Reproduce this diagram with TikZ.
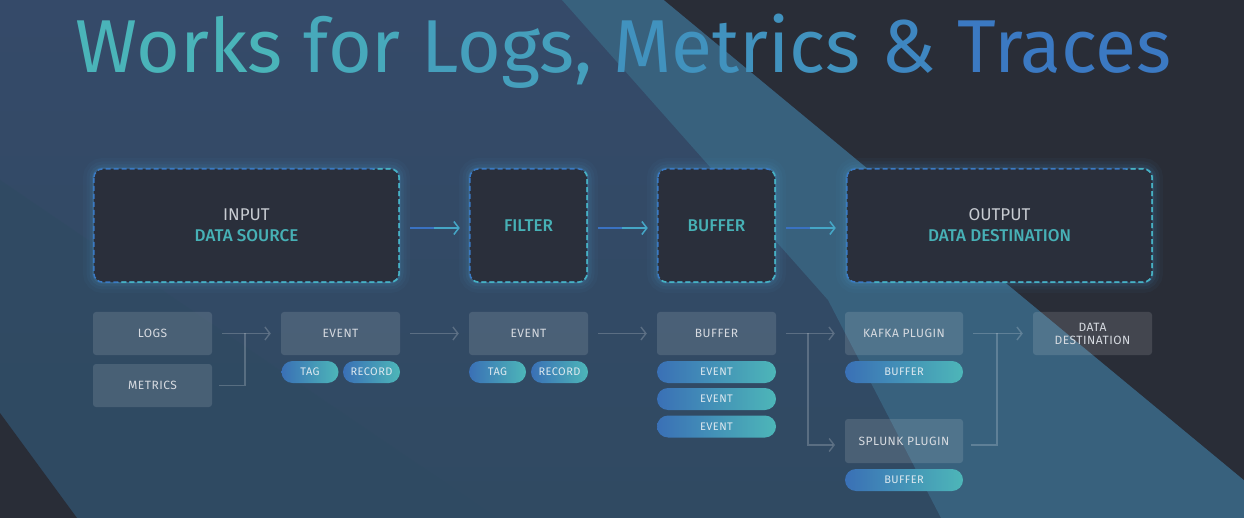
\documentclass[tikz,border=0pt]{standalone}
\usepackage{fontspec}
\setmainfont{Fira Sans}
\newfontfamily\titlefont{Fira Sans}
\newfontfamily\medfont{Fira Sans Medium}
\newfontfamily\lblfont{Fira Sans}[LetterSpace=4]
\usetikzlibrary{arrows.meta,calc}
\definecolor{bgtop}{HTML}{354A69}
\definecolor{bgbot}{HTML}{304A62}
\definecolor{bgsub}{HTML}{2F4B62}
\definecolor{bgteal}{HTML}{38617D}
\definecolor{bgdark}{HTML}{292D37}
\definecolor{boxdark}{HTML}{2A2F3B}
\definecolor{dashA}{HTML}{3A7AC4}
\definecolor{dashB}{HTML}{47B4C0}
\definecolor{glowc}{HTML}{4FA6DE}
\definecolor{graytxt}{HTML}{C8CCD2}
\definecolor{tealtxt}{HTML}{47B1B6}
\definecolor{lbltxt}{HTML}{D6DAE0}
\definecolor{pilltxt}{HTML}{DCE8EF}
\definecolor{pillA}{HTML}{3A70B6}
\definecolor{pillB}{HTML}{4DB6B8}
\definecolor{arrA}{HTML}{3A72C2}
\definecolor{arrB}{HTML}{45A6C6}
\definecolor{tA}{HTML}{4AB4B9}
\definecolor{tB}{HTML}{3B79C2}
\newcommand\gradborder[1]{%
  \draw[border, draw=dashA] (#1.north west) rectangle (#1.south east);
  \begin{scope}
    \clip ($(#1.south west)+(-20,20)$) -- ($(#1.north east)+(20,-20)$) -- ($(#1.south east)+(20,20)$) -- cycle;
    \draw[border, draw=dashB] (#1.north west) rectangle (#1.south east);
  \end{scope}}
\newcommand\gradarrow[2]{%
  \draw[draw=arrA, line width=1.5pt] (#1) -- ($(#1)!0.5!(#2)$);
  \draw[draw=arrB, line width=1.5pt, -{Straight Barb[length=5pt,width=13pt]}] ($(#1)!0.48!(#2)$) -- (#2);}
\newcommand\tsp{\hspace{21pt}}
\begin{document}
\begin{tikzpicture}[x=1pt,y=-1pt,
  bigbox/.style={fill=boxdark, rounded corners=9pt, inner sep=0pt, align=center, minimum height=113pt,
    font=\fontsize{17}{21}\selectfont,
    preaction={draw=glowc, line width=22pt, draw opacity=0.04},
    preaction={draw=glowc, line width=15pt, draw opacity=0.05},
    preaction={draw=glowc, line width=9pt, draw opacity=0.07},
    preaction={draw=glowc, line width=4pt, draw opacity=0.12}},
  border/.style={line width=1.5pt, dash pattern=on 5pt off 3pt, rounded corners=9pt},
  lowbox/.style={fill=white, fill opacity=0.12, text opacity=1, rounded corners=3pt,
    minimum width=119pt, minimum height=43pt, inner sep=0pt, text=lbltxt, align=center,
    font=\lblfont\fontsize{12}{13}\selectfont},
  pill/.style={rounded corners=11pt, left color=pillA, right color=pillB,
    minimum height=22pt, inner sep=0pt, text=pilltxt,
    font=\lblfont\fontsize{11}{12}\selectfont},
  conn/.style={draw=white, draw opacity=0.2, line width=1.4pt},
  arr/.style={conn, -{Straight Barb[length=5pt,width=13pt]}}
]
\useasboundingbox (0,0) rectangle (1244,518);
% background
\shade[top color=bgtop, bottom color=bgbot] (0,0) rectangle (1244,518);
\fill[bgsub, opacity=0.6] (0,180) -- (497,518) -- (0,518) -- cycle;
\fill[bgteal] (562,0) -- (664,0) -- (1244,480) -- (1244,518) -- (941,518) -- (828,300) -- cycle;
\fill[bgdark] (664,0) -- (1244,0) -- (1244,480) -- cycle;
\fill[bgdark] (0,413) -- (77,518) -- (0,518) -- cycle;

% title
\node[anchor=base, inner sep=0pt, font=\titlefont\fontsize{75}{80}\selectfont] (title) at (623.5,73)
 {\textcolor{tA}{Works}\tsp\textcolor{tB!18!tA}{for}\tsp\textcolor{tB!36!tA}{Logs,}\tsp\textcolor{tB!58!tA}{Metrics}\tsp\textcolor{tB!78!tA}{\&}\tsp\textcolor{tB}{Traces}};

% big boxes
\node[bigbox, minimum width=305pt] (input) at (246.5,225.5)
 {\textcolor{graytxt}{INPUT}\\\textcolor{tealtxt}{\medfont DATA SOURCE}};
\node[bigbox, minimum width=117pt] (filter) at (528.5,225.5) {\textcolor{tealtxt}{\medfont FILTER}};
\node[bigbox, minimum width=117pt] (buffer) at (716.5,225.5) {\textcolor{tealtxt}{\medfont BUFFER}};
\node[bigbox, minimum width=305pt] (output) at (999.5,225.5)
 {\textcolor{graytxt}{OUTPUT}\\\textcolor{tealtxt}{\medfont DATA DESTINATION}};
\gradborder{input}
\gradborder{filter}
\gradborder{buffer}
\gradborder{output}

\coordinate (a1s) at ([xshift=11pt,yshift=-2.5pt]input.east);
\coordinate (a1e) at ([xshift=-10pt,yshift=-2.5pt]filter.west);
\coordinate (a2s) at ([xshift=11pt,yshift=-2.5pt]filter.east);
\coordinate (a2e) at ([xshift=-10pt,yshift=-2.5pt]buffer.west);
\coordinate (a3s) at ([xshift=11pt,yshift=-2.5pt]buffer.east);
\coordinate (a3e) at ([xshift=-11pt,yshift=-2.5pt]output.west);
\gradarrow{a1s}{a1e}
\gradarrow{a2s}{a2e}
\gradarrow{a3s}{a3e}

% lower row
\node[lowbox] (logs) at (152.5,333.5) {LOGS};
\node[lowbox] (metrics) at (152.5,385.5) {METRICS};
\node[lowbox] (ev1) at (340.5,333.5) {EVENT};
\node[pill, minimum width=57pt] (tag1) at (310,372) {TAG};
\node[pill, minimum width=57pt] (rec1) at (371.5,372) {RECORD};
\node[lowbox] (ev2) at (528.5,333.5) {EVENT};
\node[pill, minimum width=57pt] (tag2) at (497.5,372) {TAG};
\node[pill, minimum width=57pt] (rec2) at (559.5,372) {RECORD};
\node[lowbox] (buf) at (716.5,333.5) {BUFFER};
\node[pill, minimum width=119pt] (bev1) at (716.5,372) {EVENT};
\node[pill, minimum width=119pt] (bev2) at (716.5,399) {EVENT};
\node[pill, minimum width=119pt] (bev3) at (716.5,426.5) {EVENT};
\node[lowbox, minimum width=118pt] (kafka) at (904,333.5) {KAFKA PLUGIN};
\node[pill, minimum width=118pt] (kbuf) at (904,372) {BUFFER};
\node[lowbox, minimum width=118pt, minimum height=44pt] (splunk) at (904,441) {SPLUNK PLUGIN};
\node[pill, minimum width=118pt] (sbuf) at (904,480) {BUFFER};
\node[lowbox] (dest) at (1092.5,333.5) {DATA\\DESTINATION};

% connectors
\coordinate (j1) at (245,333.5);
\coordinate (j2) at (808,333.5);
\coordinate (j3) at (997,333.5);
\coordinate (s1) at (835,445);
\coordinate (s2) at (971,445);
\draw[arr] ([xshift=10pt]logs.east) -- ([xshift=-10pt]ev1.west);
\draw[conn] ([xshift=7pt]metrics.east) -| (j1);
\draw[arr] ([xshift=10pt]ev1.east) -- ([xshift=-10pt]ev2.west);
\draw[arr] ([xshift=10pt]ev2.east) -- ([xshift=-10pt]buf.west);
\draw[arr] ([xshift=10pt]buf.east) -- ([xshift=-10pt]kafka.west);
\draw[arr] (j2) |- (s1);
\draw[arr] ([xshift=10pt]kafka.east) -- ([xshift=-10pt]dest.west);
\draw[conn] (s2) -| (j3);
\end{tikzpicture}
\end{document}
